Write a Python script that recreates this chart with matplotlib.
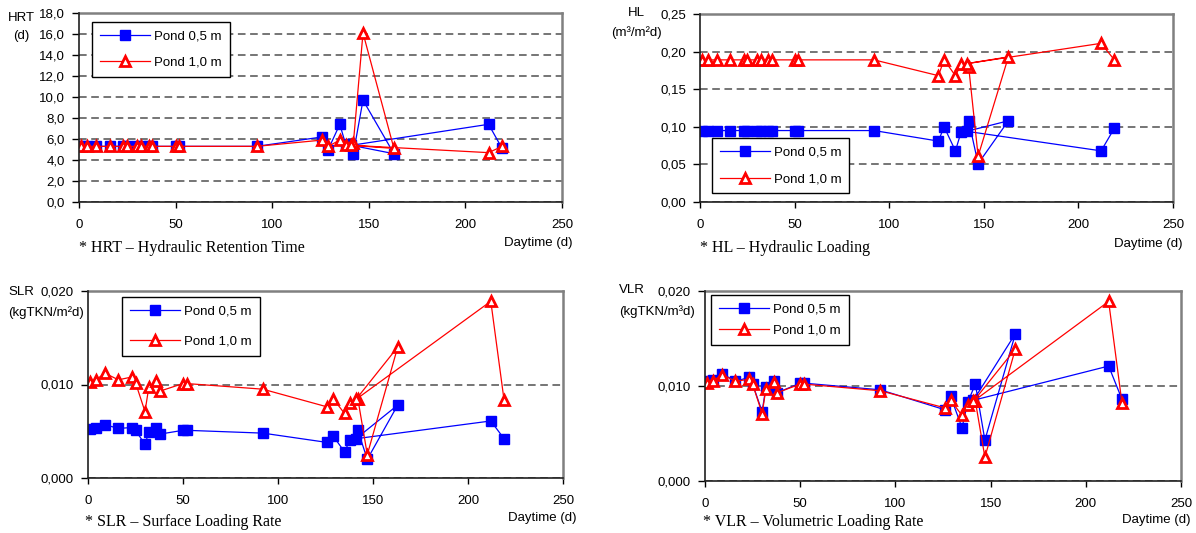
import matplotlib
matplotlib.use("Agg")
import matplotlib.pyplot as plt
from matplotlib.ticker import FuncFormatter, MultipleLocator

plt.rcParams['font.family'] = ['Liberation Sans', 'DejaVu Sans']

# sampling days (one late sample entered after day 163)
days = [1, 4, 9, 16, 23, 25, 30, 32, 36, 38, 50, 52, 92, 126, 129, 135, 138,
        142, 147, 163, 141, 212, 219]

hrt_05 = [5.3, 5.3, 5.3, 5.3, 5.3, 5.3, 5.3, 5.3, 5.3, 5.3, 5.3, 5.3, 5.3,
          6.2, 5.0, 7.4, 5.5, 4.6, 9.7, 4.6, 5.4, 7.4, 5.1]
hrt_10 = [5.3, 5.3, 5.3, 5.3, 5.3, 5.3, 5.3, 5.3, 5.3, 5.3, 5.3, 5.3, 5.3,
          5.9, 5.3, 5.9, 5.4, 5.6, 16.1, 5.1, 5.4, 4.7, 5.3]

hl_05 = [0.095, 0.095, 0.095, 0.095, 0.095, 0.095, 0.095, 0.095, 0.095, 0.095,
         0.095, 0.095, 0.095, 0.081, 0.100, 0.068, 0.093, 0.108, 0.051, 0.108,
         0.094, 0.068, 0.098]
hl_10 = [0.189, 0.189, 0.189, 0.189, 0.189, 0.189, 0.189, 0.189, 0.189, 0.189,
         0.189, 0.189, 0.189, 0.168, 0.189, 0.168, 0.183, 0.180, 0.061, 0.193,
         0.184, 0.211, 0.189]

slr_05 = [0.0052, 0.0053, 0.0057, 0.0053, 0.0054, 0.0051, 0.0036, 0.0049,
          0.0053, 0.0047, 0.0051, 0.0051, 0.0048, 0.0038, 0.0045, 0.0028,
          0.0041, 0.0051, 0.0020, 0.0078, 0.0042, 0.0061, 0.0042]
slr_10 = [0.0103, 0.0105, 0.0112, 0.0105, 0.0108, 0.0102, 0.0071, 0.0097,
          0.0104, 0.0093, 0.0101, 0.0101, 0.0095, 0.0076, 0.0085, 0.0069,
          0.0080, 0.0085, 0.0025, 0.0140, 0.0084, 0.0189, 0.0083]

vlr_05 = [0.0105, 0.0106, 0.0113, 0.0105, 0.0109, 0.0102, 0.0073, 0.0099,
          0.0105, 0.0093, 0.0103, 0.0103, 0.0096, 0.0075, 0.0089, 0.0056,
          0.0083, 0.0102, 0.0043, 0.0155, 0.0085, 0.0121, 0.0086]
vlr_10 = [0.0103, 0.0105, 0.0112, 0.0105, 0.0107, 0.0102, 0.0071, 0.0097,
          0.0104, 0.0093, 0.0102, 0.0102, 0.0095, 0.0077, 0.0085, 0.0069,
          0.0080, 0.0084, 0.0025, 0.0139, 0.0084, 0.0189, 0.0082]

labels = ['Pond 0,5 m', 'Pond 1,0 m']
xlabel = 'Daytime (d)'

W, H = 1196, 533
fig = plt.figure(figsize=(W / 100, H / 100), dpi=100)


def rect(x0, y0, x1, y1):
    # pixel box (top-left origin) -> figure fraction
    return [x0 / W, 1 - y1 / H, (x1 - x0) / W, (y1 - y0) / H]


def ftext(x, y, s, **kw):
    fig.text(x / W, 1 - y / H, s, **kw)


def panel(box, y05, y10, ymax, ystep, fmt, leg_anchor, leg_spacing):
    ax = fig.add_axes(rect(*box))
    ax.plot(days, y05, color='#0000FF', lw=0.9, marker='s', ms=7,
            mfc='#0000FF', mec='#0000FF', label=labels[0], zorder=3)
    ax.plot(days, y10, color='#FF0000', lw=0.9, marker='^', ms=7.2,
            mfc='white', mec='#FF0000', mew=2.0, label=labels[1], zorder=4)
    ax.set_xlim(0, 250)
    ax.set_ylim(0, ymax)
    ax.xaxis.set_major_locator(MultipleLocator(50))
    ax.yaxis.set_major_locator(MultipleLocator(ystep))
    ax.yaxis.set_major_formatter(FuncFormatter(lambda v, p: fmt.format(v).replace('.', ',')))
    ax.yaxis.grid(True, color='#505050', lw=1.1, ls=(0, (5, 3)))
    ax.set_axisbelow(True)
    for s in ['top', 'right']:
        ax.spines[s].set_color('#808080')
        ax.spines[s].set_linewidth(1.8)
    for s in ['left', 'bottom']:
        ax.spines[s].set_color('#202020')
        ax.spines[s].set_linewidth(1.2)
        ax.spines[s].set_zorder(5)
    ax.tick_params(axis='y', direction='out', length=5, width=1, pad=5, labelsize=9.5)
    ax.tick_params(axis='x', direction='out', length=4, width=1, pad=8, labelsize=9.5)
    leg = ax.legend(loc='upper left', bbox_to_anchor=leg_anchor, borderaxespad=0,
                    fontsize=9.5, handlelength=3.8, handletextpad=0.3,
                    labelspacing=leg_spacing, borderpad=0.6, fancybox=False,
                    framealpha=1, edgecolor='black', numpoints=1)
    leg.get_frame().set_linewidth(1.0)
    leg.set_zorder(6)
    return ax


panel((79, 13, 562, 202), hrt_05, hrt_10, 18, 2, '{:.1f}', (0.027, 0.952), 1.1)
panel((700, 14, 1173, 202), hl_05, hl_10, 0.25, 0.05, '{:.2f}', (0.025, 0.339), 1.1)
panel((88, 291, 563, 478), slr_05, slr_10, 0.020, 0.010, '{:.3f}', (0.072, 0.968), 1.4)
panel((705, 291, 1181, 481), vlr_05, vlr_10, 0.020, 0.010, '{:.3f}', (0.013, 0.979), 0.7)

sans = dict(fontsize=9.5)
serif = dict(fontsize=11.5, family=['Liberation Serif', 'DejaVu Serif'])

# axis titles
ftext(21, 18, 'HRT', ha='center', va='center', **sans)
ftext(21, 36, '(d)', ha='center', va='center', **sans)
ftext(636, 13, 'HL', ha='center', va='center', **sans)
ftext(636, 33, '(m³/m²d)', ha='center', va='center', **sans)
ftext(8, 292, 'SLR', ha='left', va='center', **sans)
ftext(8, 313, '(kgTKN/m²d)', ha='left', va='center', **sans)
ftext(619, 290, 'VLR', ha='left', va='center', **sans)
ftext(619, 312, '(kgTKN/m³d)', ha='left', va='center', **sans)

# x labels
ftext(573, 243, xlabel, ha='right', va='center', **sans)
ftext(1183, 244, xlabel, ha='right', va='center', **sans)
ftext(576, 518, xlabel, ha='right', va='center', **sans)
ftext(1191, 520, xlabel, ha='right', va='center', **sans)

# captions
ftext(79, 248, '* HRT – Hydraulic Retention Time', ha='left', va='center', **serif)
ftext(700, 248, '* HL – Hydraulic Loading', ha='left', va='center', **serif)
ftext(85, 522, '* SLR – Surface Loading Rate', ha='left', va='center', **serif)
ftext(703, 522, '* VLR – Volumetric Loading Rate', ha='left', va='center', **serif)

fig.savefig('out.png', dpi=100)
